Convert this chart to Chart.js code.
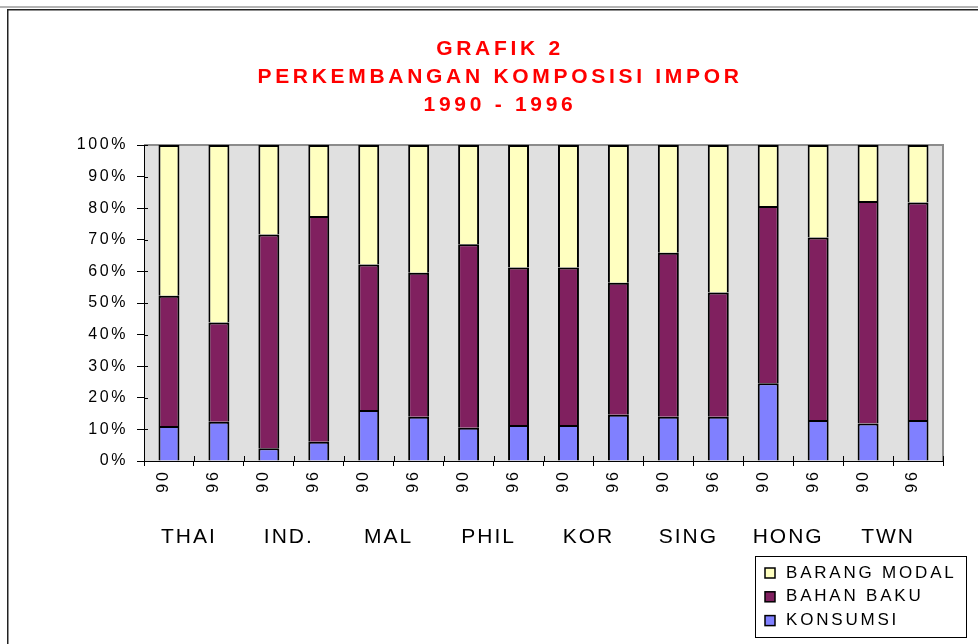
<!DOCTYPE html>
<html>
<head>
<meta charset="utf-8">
<script src="https://cdn.jsdelivr.net/npm/chart.js@4.4.1/dist/chart.umd.min.js"></script>
<style>
  html, body { margin: 0; padding: 0; background: #ffffff; }
  #wrap { width: 978px; height: 644px; position: relative; }
</style>
</head>
<body>
<div id="wrap"><canvas id="c" width="978" height="644"></canvas></div>
<script>
// ---- data ----
const YEARS = ['90','96','90','96','90','96','90','96','90','96','90','96','90','96','90','96'];
const COUNTRIES = ['THAI','IND.','MAL','PHIL','KOR','SING','HONG','TWN'];
const TITLE_LINES = ['GRAFIK 2', 'PERKEMBANGAN KOMPOSISI IMPOR', '1990 - 1996'];
const Y_TICK_VALUES = [0, 10, 20, 30, 40, 50, 60, 70, 80, 90, 100];

const KONSUMSI     = [11.1, 12.4,  4.0,  6.1, 16.1, 14.0, 10.5, 11.4, 11.4, 14.6, 14.0, 14.0, 24.6, 13.0, 11.9, 13.0];
const BAHAN_BAKU   = [41.2, 31.4, 67.7, 71.4, 46.1, 45.6, 58.1, 49.8, 49.8, 41.8, 51.9, 39.3, 56.1, 57.7, 70.4, 68.8];
const BARANG_MODAL = [47.7, 56.2, 28.3, 22.5, 37.8, 40.4, 31.4, 38.8, 38.8, 43.6, 34.1, 46.7, 19.3, 29.3, 17.7, 18.2];

// ---- styles ----
const FONT = '"Liberation Sans", Arial, Helvetica, sans-serif';
const C_KONSUMSI = '#8080ff';
const C_BAHAN = '#80205f';
const C_MODAL = '#ffffc0';
const PLOT_BG = '#e0e0e0';

function spaced(obj, method, sp) {
  if (!obj || obj['__sp_' + method]) return;
  const orig = obj[method];
  obj[method] = function (...args) {
    const ctx = this.ctx || obj.ctx;
    const prev = ctx.letterSpacing;
    ctx.letterSpacing = sp;
    const r = orig.apply(this, args);
    ctx.letterSpacing = prev || '0px';
    return r;
  };
  obj['__sp_' + method] = true;
}

const decor = {
  id: 'decor',
  beforeDraw(chart) {
    const ctx = chart.ctx;
    spaced(chart.titleBlock, 'draw', '3.7px');
    spaced(chart.scales.x, 'drawLabels', '3px');
    spaced(chart.scales.y, 'drawLabels', '2.6px');
    spaced(chart.scales.x2, 'drawLabels', '2px');
    const a = chart.chartArea;
    ctx.save();
    ctx.fillStyle = '#ffffff';
    ctx.fillRect(0, 0, chart.width, chart.height);
    // outer frame
    ctx.fillStyle = '#b4b4b4';
    ctx.fillRect(0, 6, chart.width, 2);
    ctx.fillStyle = '#222222';
    ctx.fillRect(7, 9, chart.width - 7, 1.5);
    ctx.fillRect(7, 9, 1.5, chart.height - 9);
    // plot background
    ctx.fillStyle = PLOT_BG;
    ctx.fillRect(a.left, a.top, a.right - a.left, a.bottom - a.top);
    ctx.strokeStyle = '#8c8c8c';
    ctx.lineWidth = 2;
    ctx.beginPath();
    ctx.moveTo(a.left, a.top);
    ctx.lineTo(a.right, a.top);
    ctx.lineTo(a.right, a.bottom);
    ctx.stroke();
    ctx.restore();
  },
  afterDraw(chart) {
    const ctx = chart.ctx;
    const a = chart.chartArea;
    const xs = chart.scales.x, ys = chart.scales.y;
    ctx.save();
    ctx.strokeStyle = '#000';
    ctx.lineWidth = 1;
    ctx.beginPath();
    // inner half of crossing tick marks
    Y_TICK_VALUES.forEach(v => {
      const py = Math.round(ys.getPixelForValue(v)) + 0.5;
      ctx.moveTo(a.left, py);
      ctx.lineTo(a.left + 4, py);
    });
    for (let i = 0; i <= YEARS.length; i++) {
      const px = Math.round((xs.getPixelForValue(i) + xs.getPixelForValue(i - 1)) / 2) + 0.5;
      ctx.moveTo(px, a.bottom);
      ctx.lineTo(px, a.bottom - 5);
    }
    ctx.stroke();

    // legend (stack order, top first)
    const L = 755, T = 556, W = 211, H = 81;
    ctx.lineWidth = 1;
    ctx.strokeStyle = '#000';
    ctx.strokeRect(L + 0.5, T + 0.5, W, H);
    const items = chart.data.datasets.slice().reverse();
    ctx.font = '17px ' + FONT;
    ctx.letterSpacing = '2.8px';
    ctx.textBaseline = 'middle';
    ctx.textAlign = 'left';
    items.forEach((ds, i) => {
      const cy = T + 16 + i * 23.8;
      ctx.fillStyle = ds.backgroundColor;
      ctx.fillRect(L + 10, cy - 4, 10, 10);
      ctx.strokeStyle = '#000';
      ctx.lineWidth = 1.5;
      ctx.strokeRect(L + 10, cy - 4, 10, 10);
      ctx.fillStyle = '#000';
      ctx.fillText(ds.label, L + 31, cy + 1);
    });
    ctx.restore();
  }
};

const chart = new Chart(document.getElementById('c'), {
  type: 'bar',
  data: {
    labels: YEARS,
    datasets: [
      { label: 'KONSUMSI', data: KONSUMSI, backgroundColor: C_KONSUMSI },
      { label: 'BAHAN BAKU', data: BAHAN_BAKU, backgroundColor: C_BAHAN },
      { label: 'BARANG MODAL', data: BARANG_MODAL, backgroundColor: C_MODAL }
    ]
  },
  options: {
    responsive: false,
    animation: false,
    events: [],
    datasets: {
      bar: {
        borderColor: '#000000',
        borderWidth: 2,
        borderSkipped: 'start',
        barPercentage: 0.42,
        categoryPercentage: 1.0
      }
    },
    layout: { padding: { left: 57, right: 35, top: 0, bottom: 98 } },
    plugins: {
      legend: { display: false },
      tooltip: { enabled: false },
      title: {
        display: true,
        text: TITLE_LINES,
        color: '#ff0000',
        font: { family: FONT, size: 21, weight: 'bold', lineHeight: 28 / 21 },
        padding: { top: 35, bottom: 26 }
      }
    },
    scales: {
      x: {
        stacked: true,
        offset: true,
        grid: { display: true, drawOnChartArea: false, offset: true, tickLength: 5, color: '#000', lineWidth: 1 },
        border: { display: true, color: '#000', width: 1 },
        ticks: {
          minRotation: 90, maxRotation: 90, autoSkip: false, padding: 3, labelOffset: -5,
          color: '#000', font: { family: FONT, size: 16 }
        },
        afterFit(s) { s.height = 40; }
      },
      x2: {
        type: 'category',
        labels: COUNTRIES,
        position: 'bottom',
        weight: 1,
        offset: true,
        grid: { display: false },
        border: { display: false },
        ticks: {
          autoSkip: false, maxRotation: 0, minRotation: 0, padding: 16, labelOffset: -5,
          color: '#000', font: { family: FONT, size: 21 }
        },
        afterFit(s) { s.height = 45; }
      },
      y: {
        stacked: true,
        min: 0,
        max: 100,
        afterBuildTicks(s) { s.ticks = Y_TICK_VALUES.map(v => ({ value: v })); },
        ticks: {
          padding: 9, color: '#000', font: { family: FONT, size: 16 },
          callback: v => v + '%'
        },
        grid: { display: true, drawOnChartArea: false, tickLength: 7, color: '#000', lineWidth: 1 },
        border: { display: true, color: '#000', width: 1 },
        afterFit(s) { s.width = 87; }
      }
    }
  },
  plugins: [decor]
});
</script>
</body>
</html>
